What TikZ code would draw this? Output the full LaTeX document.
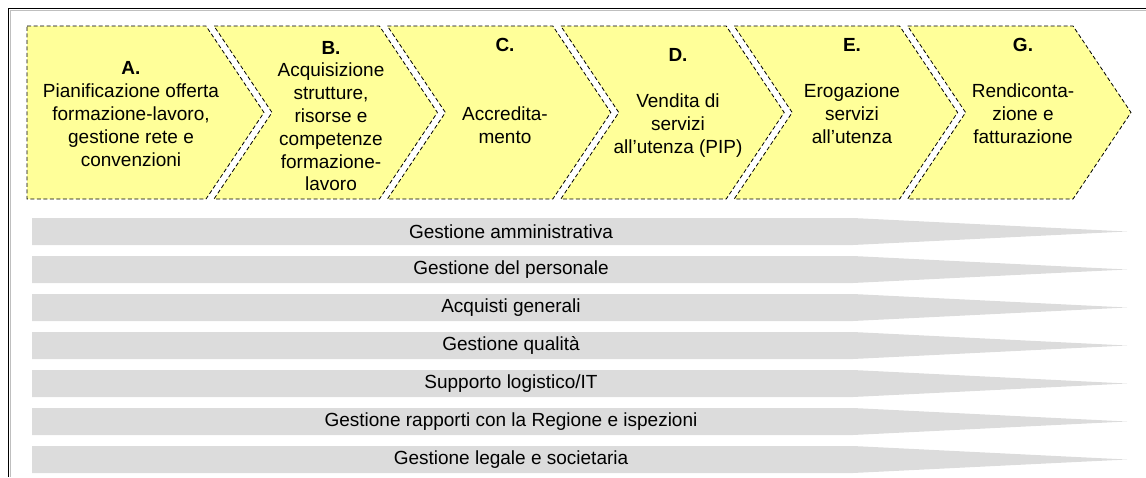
\documentclass[tikz,border=0pt]{standalone}
\usepackage{fontspec}
\setmainfont{Liberation Sans}
\definecolor{chevfill}{HTML}{FFFF99}
\definecolor{barfill}{HTML}{DCDCDC}
\begin{document}
\begin{tikzpicture}[x=1pt,y=-1pt,
  chev/.style={fill=chevfill,draw=black,line width=0.8pt,dash pattern=on 4pt off 2.5pt},
  bar/.style={fill=barfill,draw=none},
  chevtext/.style={align=center,inner sep=0pt,font=\fontsize{19}{22.8}\selectfont},
  bartext/.style={inner sep=0pt,font=\fontsize{19}{22.8}\selectfont}]
\useasboundingbox (0,0) rectangle (1146,477);
% frame
\draw[black!25,line width=1pt] (10,477) -- (10,10) -- (1146,10);
\draw[black,line width=1pt] (8.5,477) -- (8.5,8.5) -- (1146,8.5);
% chevrons
\def\d{58}
\def\ytop{26}\def\ybot{199}\def\ymid{112.5}
\path[chev] (27,\ytop) -- (206,\ytop) -- (206+\d,\ymid) -- (206,\ybot) -- (27,\ybot) -- cycle;
\foreach \i in {1,...,5}{
  \pgfmathsetmacro{\xr}{206+173.4*\i}
  \pgfmathsetmacro{\xl}{206+173.4*(\i-1)+8}
  \path[chev] (\xl,\ytop) -- (\xr,\ytop) -- (\xr+\d,\ymid) -- (\xr,\ybot) -- (\xl,\ybot) -- (\xl+\d,\ymid) -- cycle;
}
\node[chevtext] (tA) at (131,114) {\textbf{A.}\\Pianificazione offerta\\formazione-lavoro,\\gestione rete e\\convenzioni};
\node[chevtext] (tB) at (331,116) {\textbf{B.}\\Acquisizione\\strutture,\\risorse e\\competenze\\formazione-\\lavoro};
\node[chevtext] (tC) at (505,91) {\textbf{C.}\\~\\~\\Accredita-\\mento};
\node[chevtext] (tD) at (678,103) {\textbf{D.}\\~\\Vendita di\\servizi\\all’utenza (PIP)};
\node[chevtext] (tE) at (852,91) {\textbf{E.}\\~\\Erogazione\\servizi\\all’utenza};
\node[chevtext] (tG) at (1023,91) {\textbf{G.}\\~\\Rendiconta-\\zione e\\fatturazione};
% support bars
\foreach \k/\t [count=\j from 0] in {b1/{Gestione amministrativa},b2/{Gestione del personale},b3/{Acquisti generali},b4/{Gestione qualità},b5/{Supporto logistico/IT},b6/{Gestione rapporti con la Regione e ispezioni},b7/{Gestione legale e societaria}}{
  \pgfmathsetmacro{\yt}{218+38*\j}
  \path[bar] (32,\yt) -- (853,\yt) -- (1127,\yt+13.5) -- (853,\yt+27) -- (32,\yt+27) -- cycle;
  \node[bartext] (\k) at (511,\yt+13.5) {\t};
}
\end{tikzpicture}
\end{document}
